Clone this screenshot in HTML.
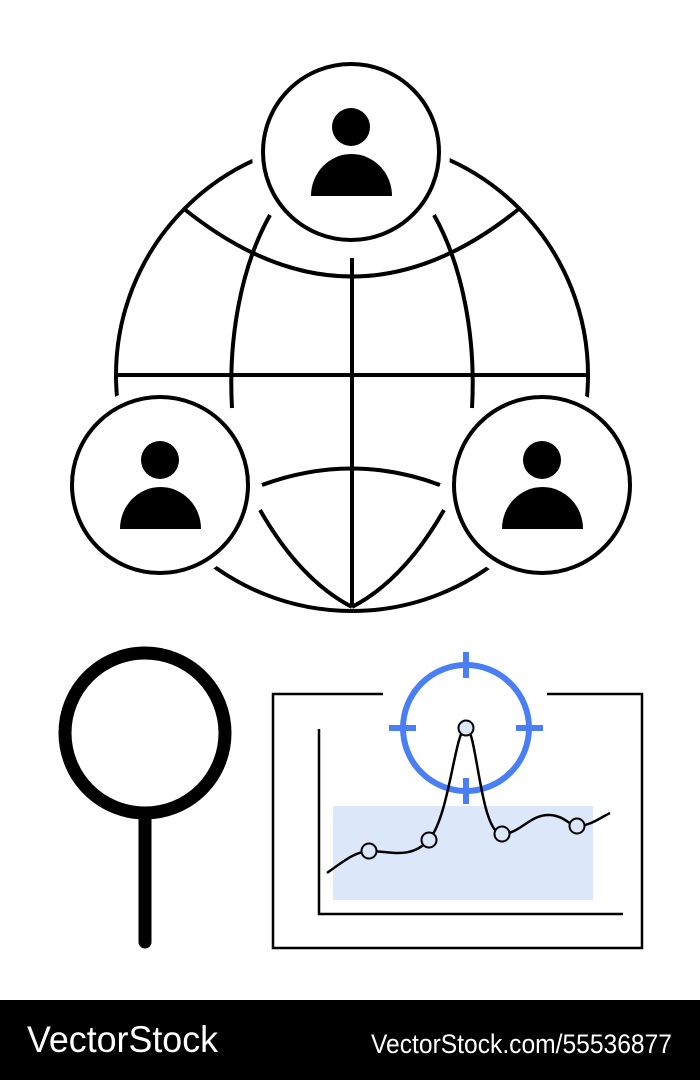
<!DOCTYPE html>
<html><head><meta charset="utf-8"><style>html,body{margin:0;padding:0;background:#fff}svg{display:block}</style></head>
<body>
<svg width="700" height="1080" viewBox="0 0 700 1080" xmlns="http://www.w3.org/2000/svg">
<rect width="700" height="1080" fill="#fff"/>
<g fill="none" stroke="#000" stroke-width="4">
  <circle cx="352" cy="375" r="236"/>
  <line x1="116" y1="375" x2="588" y2="375"/>
  <line x1="352" y1="258" x2="352" y2="607"/>
  <path d="M183,208 Q352,345 520,208"/>
  <path d="M262,485 Q352,452 440,485"/>
  <path d="M270,215 A124,232 0 0 0 232,408"/>
  <path d="M434,215 A124,232 0 0 1 472,408"/>
  <path d="M260,510 Q300,580 352,607"/>
  <path d="M444,510 Q404,580 352,607"/>
</g>
<g fill="#fff" stroke="#fff" stroke-width="22">
  <circle cx="351" cy="152" r="88"/>
  <circle cx="160" cy="485" r="88"/>
  <circle cx="542" cy="485" r="88"/>
</g>
<g fill="#fff" stroke="#000" stroke-width="4">
  <circle cx="351" cy="152" r="88"/>
  <circle cx="160" cy="485" r="88"/>
  <circle cx="542" cy="485" r="88"/>
</g>
<g fill="#000">
  <circle cx="351" cy="127" r="19"/>
  <path d="M311,196 A40.5,42 0 0 1 392,196 Z"/>
  <circle cx="160" cy="460" r="19"/>
  <path d="M120,529 A40.5,42 0 0 1 201,529 Z"/>
  <circle cx="542" cy="460" r="19"/>
  <path d="M502,529 A40.5,42 0 0 1 583,529 Z"/>
</g>
<circle cx="145" cy="733" r="80" fill="none" stroke="#000" stroke-width="13"/>
<line x1="145" y1="820" x2="145" y2="942" stroke="#000" stroke-width="13" stroke-linecap="round"/>
<g fill="none" stroke="#000" stroke-width="2.5">
  <path d="M383,694 H273 V948 H642 V694 H547"/>
  <path d="M319,729 V914 H623"/>
</g>
<rect x="333" y="806" width="260" height="94" fill="#dce8fa"/>
<g fill="none" stroke="#4a7ef5" stroke-width="6">
  <circle cx="466" cy="728" r="63"/>
  <line x1="466" y1="652" x2="466" y2="678"/>
  <line x1="466" y1="778" x2="466" y2="804"/>
  <line x1="389" y1="728" x2="416" y2="728"/>
  <line x1="516" y1="728" x2="543" y2="728"/>
</g>
<path d="M327,873 C345,860 355,852 369,851 C390,851 410,860 429,840 C450,815 455,728 466,728 C477,728 480,834 502,834 C520,834 530,814 550,815 C565,816 570,826 577,826 C590,826 600,818 610,813" fill="none" stroke="#000" stroke-width="2.5"/>
<g fill="#dce8fa" stroke="#000" stroke-width="2">
  <circle cx="369" cy="851" r="7.5"/>
  <circle cx="429" cy="840" r="7.5"/>
  <circle cx="466" cy="728" r="7.5"/>
  <circle cx="502" cy="834" r="7.5"/>
  <circle cx="577" cy="826" r="7.5"/>
</g>
<rect x="0" y="1000" width="700" height="80" fill="#000"/>
<text x="27" y="1052" fill="#fff" font-family="Liberation Sans, sans-serif" font-size="37" textLength="191" lengthAdjust="spacingAndGlyphs">VectorStock</text>
<text x="371" y="1053" fill="#fff" font-family="Liberation Sans, sans-serif" font-size="27" textLength="301" lengthAdjust="spacingAndGlyphs">VectorStock.com/55536877</text>
</svg>
</body></html>
